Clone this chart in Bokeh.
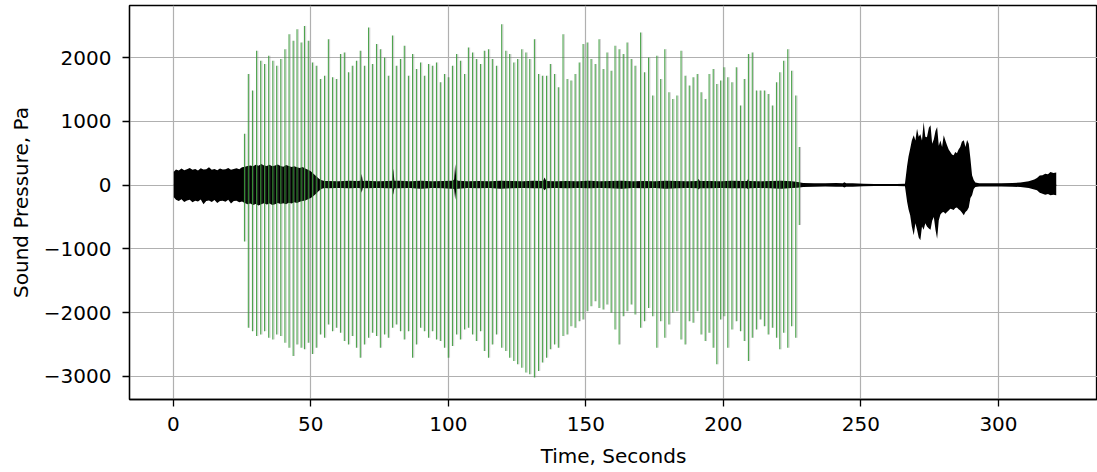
from bokeh.plotting import figure
from bokeh.models import Range1d, FixedTicker, ColumnDataSource
from bokeh.transform import dodge
from bokeh.embed import file_html
from bokeh.resources import INLINE

# ---- data ----
x_ticks = [0, 50, 100, 150, 200, 250, 300]
y_ticks = [-3000, -2000, -1000, 0, 1000, 2000]
y_tick_labels = ["\u22123000", "\u22122000", "\u22121000", "0", "1000", "2000"]

# green click spikes: time (s), positive peak, negative peak (Pa)
spike_t = [25.9, 27.3, 28.8, 30.3, 31.8, 33.2, 34.7, 36.2, 37.6, 39.1,
           40.6, 42.1, 43.6, 45.0, 46.5, 47.7, 49.1, 50.6, 52.0, 53.5,
           55.0, 56.4, 57.9, 59.3, 60.8, 62.2, 63.7, 65.1, 66.6, 68.0,
           69.5, 71.0, 72.4, 73.9, 75.3, 76.8, 78.2, 79.7, 81.1, 82.6,
           84.0, 85.5, 87.0, 88.4, 89.9, 91.3, 92.8, 94.2, 95.7,
           97.1, 98.6, 100.0, 101.5, 103.0, 104.4, 105.9, 107.3, 108.8, 110.2,
           111.7, 113.1, 114.6, 116.0, 117.5, 119.4, 120.9, 122.3, 123.8, 125.2,
           126.7, 128.2, 129.6, 131.3, 132.8, 134.2, 135.7, 137.1, 138.6, 140.0,
           141.7, 143.2, 144.6, 146.1, 147.6, 149.0, 150.5, 151.9, 153.4, 154.8,
           156.3, 157.7, 159.2, 160.6, 162.1, 163.6, 165.0, 166.5, 167.9,
           169.9, 171.3, 172.8, 174.3, 175.8, 177.2, 178.7, 180.2, 181.6, 183.1,
           184.6, 186.1, 187.6, 189.0, 190.5, 191.9, 193.4, 194.8, 196.3, 197.6,
           199.0, 200.2, 201.6, 203.1, 204.7, 206.2, 207.6, 209.1, 210.5, 212.0,
           213.4, 214.9, 216.3, 217.8, 219.3, 220.5, 221.9, 223.4, 224.8, 226.3, 227.6]
spike_top = [807, 1745, 1484, 2109, 1953, 1901, 2031, 1953, 1875, 1979,
             2135, 2370, 2266, 2448, 2240, 2500, 2266, 1927, 1875, 1667,
             1719, 2292, 1693, 1667, 2057, 2083, 1771, 1875, 1953, 2109,
             1875, 2474, 1901, 2214, 2135, 2005, 1719, 2350, 1875, 1979,
             2188, 1719, 2057, 1823, 1927, 1719, 1901, 1875, 1927,
             1615, 1745, 1693, 1875, 2057, 1953, 1745, 2161, 2083, 1979,
             1901, 2109, 2135, 1979, 1875, 2526, 2109, 2057, 1927, 1979,
             2135, 2083, 1979, 2292, 1745, 1719, 1719, 1901, 1745, 1536,
             2370, 1667, 1641, 1745, 1927, 2214, 2240, 1979, 1901, 2292,
             1823, 2083, 1797, 2188, 2135, 2057, 2240, 1979, 1875,
             2396, 1771, 2005, 1406, 2031, 1667, 2135, 1458, 1354, 1406,
             2109, 1719, 1563, 1693, 1745, 1458, 1354, 1745, 1823, 1589,
             1641, 1849, 1693, 1615, 1849, 1250, 1667, 2057, 2083, 1484,
             1484, 1484, 1432, 1250, 1615, 1771, 1953, 2135, 1797, 1406, 599]
spike_bottom = [-885, -2240, -2292, -2370, -2344, -2292, -2396, -2422, -2344, -2370,
                -2474, -2552, -2682, -2500, -2552, -2578, -2474, -2650, -2552, -2344,
                -2396, -2188, -2292, -2240, -2318, -2448, -2500, -2370, -2552, -2708,
                -2500, -2396, -2318, -2370, -2552, -2344, -2396, -2240, -2188, -2292,
                -2422, -2292, -2708, -2500, -2240, -2292, -2396, -2292, -2422,
                -2448, -2552, -2708, -2526, -2344, -2422, -2266, -2240, -2344, -2448,
                -2292, -2604, -2708, -2500, -2344, -2552, -2604, -2708, -2760, -2813,
                -2865, -2943, -2969, -3021, -2917, -2786, -2708, -2578, -2500, -2552,
                -2370, -2344, -2214, -2240, -2135, -2109, -1979, -1901, -1823, -1927,
                -1953, -1875, -2005, -2266, -2500, -2057, -1979, -1875, -2031,
                -2240, -2135, -1927, -2057, -2552, -2135, -2396, -2188, -2005, -1979,
                -2422, -2500, -2135, -2161, -1979, -2344, -2448, -2318, -2552, -2813,
                -2109, -2057, -2552, -2266, -2135, -2292, -2448, -2760, -2396, -2266,
                -2109, -2214, -2344, -2240, -2396, -2578, -2318, -2552, -2214, -2396, -625]

# black waveform envelope: time (s), upper and lower extent (Pa)
env_t = [0.2, 1, 2, 3, 4, 5, 6, 7, 8, 9, 10, 11, 12, 13, 14, 15, 16, 17, 18, 19,
         20, 21, 22, 23, 24, 25,
         26, 27, 28, 29, 30, 31, 32, 33, 34, 35, 36, 37, 38, 39, 40, 41, 42, 43,
         44, 45, 46, 47, 48, 49, 50,
         51, 52, 53, 54, 55,
         56, 60, 64, 67, 68.1, 68.5, 68.9, 70, 74, 78, 79.6, 80, 80.4, 82, 86, 90,
         94, 98, 101.5, 102.1, 102.5, 102.9, 103.5, 107, 111, 115, 119, 123, 127,
         131, 134.4, 135, 135.6, 139, 143, 147, 151, 155, 159, 163, 167, 171, 175,
         179, 183, 187, 190.6, 191, 191.4, 195, 199, 203, 207, 208.6, 209, 209.4,
         213, 217, 221, 225, 227,
         229, 233, 237, 241, 243.4, 244, 244.6, 247, 251, 255, 259, 263, 266,
         266.8, 267.3, 267.9, 268.5, 269.2, 269.8, 270.4, 271.0, 271.6, 272.2,
         272.8, 273.4, 274.0, 274.7, 275.3, 275.9, 276.5, 277.1, 277.7, 278.3,
         278.9, 279.5, 280.1, 280.7, 281.3, 281.9, 282.5, 283.1, 283.7, 284.3,
         284.9, 285.5, 286.1, 286.7, 287.4, 288.0, 288.6, 289.2, 289.8, 290.4,
         291.0, 291.6,
         293, 297, 301, 305, 308, 311, 313, 314, 315, 316, 317, 318, 318.9, 320, 321]
env_hi = [210, 245, 230, 260, 235, 250, 270, 240, 255, 230, 265, 245, 250, 280, 240,
          255, 235, 260, 245, 250, 270, 240, 255, 265, 250, 280,
          290, 300, 310, 295, 320, 305, 330, 310, 300, 320, 295, 310, 325, 300, 290,
          315, 300, 285, 295, 280, 270, 285, 260, 240, 220,
          180, 140, 100, 75, 65,
          65, 60, 70, 65, 70, 180, 65, 70, 60, 65, 70, 260, 70, 70, 60, 70,
          60, 65, 70, 90, 330, 90, 70, 60, 65, 60, 70, 65, 60,
          70, 65, 120, 65, 60, 65, 60, 70, 60, 65, 70, 60, 65, 60,
          70, 65, 60, 65, 100, 65, 65, 60, 70, 65, 65, 100, 65,
          60, 65, 70, 60, 50,
          35, 30, 28, 32, 30, 45, 30, 30, 22, 18, 16, 18, 20,
          310, 450, 573, 700, 782, 700, 887, 760, 800, 700,
          991, 760, 750, 900, 939, 650, 720, 850, 912, 620,
          700, 600, 782, 700, 625, 560, 520, 480, 470, 520,
          500, 560, 600, 680, 703, 600, 708, 650, 420, 154,
          80, 40,
          30, 28, 30, 32, 40, 60, 90, 111, 150, 154, 180, 170, 206, 190, 200]
env_lo = [-190, -230, -250, -220, -265, -240, -230, -270, -245, -255, -225, -300,
          -250, -240, -265, -235, -280, -250, -245, -260, -230, -290, -250, -245,
          -270, -255,
          -280, -300, -290, -310, -295, -320, -300, -285, -305, -290, -310, -300,
          -280, -295, -285, -300, -275, -290, -270, -280, -260, -250, -240, -220, -200,
          -170, -130, -90, -55, -45,
          -50, -45, -50, -45, -50, -120, -45, -50, -45, -50, -50, -150, -50, -50, -45, -55,
          -45, -50, -55, -60, -230, -60, -55, -45, -50, -45, -55, -50, -45,
          -50, -50, -80, -50, -45, -50, -45, -50, -45, -50, -55, -45, -50, -45,
          -55, -50, -45, -50, -70, -50, -50, -45, -50, -50, -50, -70, -50,
          -45, -50, -55, -45, -40,
          -30, -25, -22, -26, -25, -38, -25, -25, -18, -15, -14, -15, -16,
          -265, -380, -474, -650, -788, -600, -700, -820, -867, -650,
          -700, -600, -650, -680, -700, -560, -500, -700, -840, -550,
          -460, -430, -422, -450, -420, -400, -370, -380, -390, -360,
          -350, -380, -400, -430, -474, -420, -400, -350, -200, -160,
          -60, -30,
          -22, -20, -22, -24, -30, -45, -70, -79, -120, -134, -150, -140, -157, -150, -160]

FONT = "DejaVu Sans"

p = figure(frame_width=968, frame_height=394, output_backend="svg", toolbar_location=None,
           x_range=Range1d(-15.9, 336.0), y_range=Range1d(-3365, 2820))
p.min_border_left = 129
p.min_border_right = 0
p.min_border_top = 5
p.min_border_bottom = 73
p.background_fill_color = "white"
p.border_fill_color = "white"
p.outline_line_color = "black"
p.outline_line_width = 1.3

# waveform
p.varea(x=env_t, y1=env_lo, y2=env_hi, fill_color="black")
p.line(x=env_t, y=[0] * len(env_t), line_color="black", line_width=1.5)

# clicks
src = ColumnDataSource(dict(t=spike_t, top=spike_top, bottom=spike_bottom))
p.segment(x0=dodge("t", 0.45), y0="bottom", x1=dodge("t", 0.45), y1="top", source=src,
          line_color="#7a7a7a", line_width=0.8, line_alpha=0.5)
p.segment(x0="t", y0="bottom", x1="t", y1="top", source=src,
          line_color="#3a9a3a", line_width=1.1, line_alpha=0.9)

# axes
xa = p.below[0]
ya = p.left[0]
xa.ticker = FixedTicker(ticks=x_ticks)
ya.ticker = FixedTicker(ticks=y_ticks)
ya.major_label_overrides = {t: s for t, s in zip(y_ticks, y_tick_labels)}
xa.axis_label = "Time, Seconds"
ya.axis_label = "Sound Pressure, Pa"
for ax in (xa, ya):
    ax.axis_line_color = "black"
    ax.axis_line_width = 1.3
    ax.major_tick_line_color = "black"
    ax.major_tick_line_width = 1.3
    ax.major_tick_out = 7
    ax.major_tick_in = 0
    ax.minor_tick_out = 0
    ax.minor_tick_in = 0
    ax.major_label_text_font = FONT
    ax.major_label_text_font_size = "20px"
    ax.major_label_text_color = "black"
    ax.axis_label_text_font = FONT
    ax.axis_label_text_font_size = "20px"
    ax.axis_label_text_font_style = "normal"
    ax.axis_label_text_color = "black"
xa.major_label_standoff = 10
ya.major_label_standoff = 11
xa.axis_label_standoff = 10
ya.axis_label_standoff = 8

p.xgrid.ticker = FixedTicker(ticks=x_ticks)
p.ygrid.ticker = FixedTicker(ticks=y_ticks)
for g in (p.xgrid[0], p.ygrid[0]):
    g.grid_line_color = "#b0b0b0"
    g.grid_line_width = 1.2

open("out.html", "w").write(file_html(p, INLINE))
